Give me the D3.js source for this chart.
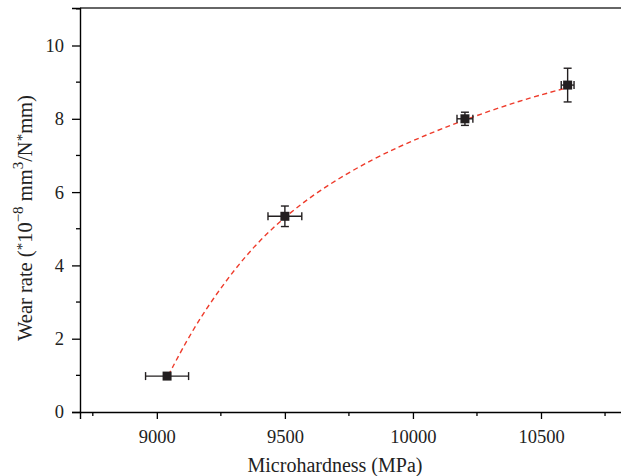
<!DOCTYPE html>
<html>
<head>
<meta charset="utf-8">
<script src="https://cdn.jsdelivr.net/npm/d3@7"></script>
<style>
  body { margin: 0; background: #fff; }
  svg { font-family: "Liberation Serif", "DejaVu Serif", serif; }
</style>
</head>
<body>
<div id="chart"></div>
<script>
// Measured points (microhardness vs wear rate)
const hardness = [9040, 9500, 10203, 10604];
const hardnessErr = [84, 66, 31, 25];
const wearRate = [0.98, 5.34, 8.0, 8.92];
const wearErr = [0, 0.28, 0.18, 0.46];

// Fitted curve
const fitX = [9045, 9150, 9306, 9450, 9630, 9852, 10030, 10203, 10418, 10604];
const fitY = [1.0, 2.4, 3.95, 5.05, 6.05, 6.95, 7.5, 7.98, 8.5, 8.85];

const xTicks = [9000, 9500, 10000, 10500];
const yTicks = [0, 2, 4, 6, 8, 10];

const W = 621, H = 476;
const padLeft = 80, padBottom = 412, padTop = 8;

const svg = d3.select('#chart').append('svg')
  .attr('width', W)
  .attr('height', H);

// Scales (right side of the frame runs off the picture)
const x = d3.scaleLinear().domain([8700, 10500]).range([padLeft, 541]);
const y = d3.scaleLinear().domain([0, 10]).range([padBottom, 45.5]);
const xMax = x.invert(W + 5);
const yMax = y.invert(padTop);

const xMinor = d3.range(8750, xMax, 500);
const yMinor = d3.range(1, yMax, 2);

// Frame top
svg.append('line')
  .attr('x1', padLeft).attr('x2', W + 5)
  .attr('y1', padTop).attr('y2', padTop)
  .attr('stroke', '#333').attr('stroke-width', 1.4);

// Axes
const xAxis = svg.append('g')
  .attr('transform', `translate(0,${padBottom})`)
  .call(d3.axisBottom(x.copy().domain([8700, xMax]).range([padLeft, W + 5]))
    .tickValues(xTicks).tickSize(7).tickPadding(11)
    .tickFormat(d3.format('d')));
xAxis.selectAll('line.minor')
  .data(xMinor).join('line')
  .attr('class', 'minor')
  .attr('x1', d => x(d)).attr('x2', d => x(d))
  .attr('y1', 0).attr('y2', 4)
  .attr('stroke', '#000').attr('stroke-width', 1.3);

const yAxis = svg.append('g')
  .attr('transform', `translate(${padLeft},0)`)
  .call(d3.axisLeft(y.copy().domain([0, yMax]).range([padBottom, padTop]))
    .tickValues(yTicks).tickSize(8).tickPadding(8));
yAxis.selectAll('line.minor')
  .data(yMinor).join('line')
  .attr('class', 'minor')
  .attr('x1', 0).attr('x2', -4)
  .attr('y1', d => y(d)).attr('y2', d => y(d))
  .attr('stroke', '#000').attr('stroke-width', 1.3);

[xAxis, yAxis].forEach(a => {
  a.select('.domain').attr('stroke', '#000').attr('stroke-width', 1.4);
  a.selectAll('.tick line').attr('stroke', '#000').attr('stroke-width', 1.3);
  a.selectAll('.tick text')
    .attr('font-family', '"Liberation Serif", serif')
    .attr('font-size', 18.5)
    .attr('fill', '#222');
});

// Axis titles
svg.append('text')
  .attr('x', 335)
  .attr('y', 472)
  .attr('text-anchor', 'middle')
  .attr('font-size', 20)
  .attr('fill', '#222')
  .text('Microhardness (MPa)');

const yt = svg.append('text')
  .attr('transform', 'translate(32,218) rotate(-90)')
  .attr('text-anchor', 'middle')
  .attr('font-size', 20.5)
  .attr('fill', '#222');
yt.append('tspan').text('Wear rate (');
yt.append('tspan').attr('dy', -5).attr('font-size', 15).text('*');
yt.append('tspan').attr('dy', 5).text('10');
yt.append('tspan').attr('dy', -9).attr('font-size', 15).text('\u22128');
yt.append('tspan').attr('dy', 9).text(' mm');
yt.append('tspan').attr('dy', -9).attr('font-size', 15).text('3');
yt.append('tspan').attr('dy', 9).text('/N');
yt.append('tspan').attr('dy', -5).attr('font-size', 15).text('*');
yt.append('tspan').attr('dy', 5).text('mm)');

// Fit curve
const fit = fitX.map((v, i) => ({ x: v, y: fitY[i] }));
svg.append('path')
  .datum(fit)
  .attr('fill', 'none')
  .attr('stroke', '#ee3b2b')
  .attr('stroke-width', 1.4)
  .attr('stroke-dasharray', '5,3.5')
  .attr('d', d3.line()
    .x(d => x(d.x))
    .y(d => y(d.y))
    .curve(d3.curveBasis));

// Error bars and markers
const pts = hardness.map((h, i) => ({
  x: h, y: wearRate[i], ex: hardnessErr[i], ey: wearErr[i]
}));
const cap = 4;
const eb = svg.append('g').attr('stroke', '#231f20').attr('stroke-width', 1.4);
pts.forEach(d => {
  const cx = x(d.x), cy = y(d.y);
  const x0 = x(d.x - d.ex), x1 = x(d.x + d.ex);
  eb.append('line').attr('x1', x0).attr('x2', x1).attr('y1', cy).attr('y2', cy);
  eb.append('line').attr('x1', x0).attr('x2', x0).attr('y1', cy - cap).attr('y2', cy + cap);
  eb.append('line').attr('x1', x1).attr('x2', x1).attr('y1', cy - cap).attr('y2', cy + cap);
  if (d.ey > 0) {
    const y0 = y(d.y - d.ey), y1 = y(d.y + d.ey);
    eb.append('line').attr('x1', cx).attr('x2', cx).attr('y1', y0).attr('y2', y1);
    eb.append('line').attr('x1', cx - cap).attr('x2', cx + cap).attr('y1', y0).attr('y2', y0);
    eb.append('line').attr('x1', cx - cap).attr('x2', cx + cap).attr('y1', y1).attr('y2', y1);
  }
});

svg.selectAll('rect.pt')
  .data(pts)
  .join('rect')
  .attr('class', 'pt')
  .attr('x', d => x(d.x) - 4.5)
  .attr('y', d => y(d.y) - 4.5)
  .attr('width', 9)
  .attr('height', 9)
  .attr('fill', '#231f20');
</script>
</body>
</html>
